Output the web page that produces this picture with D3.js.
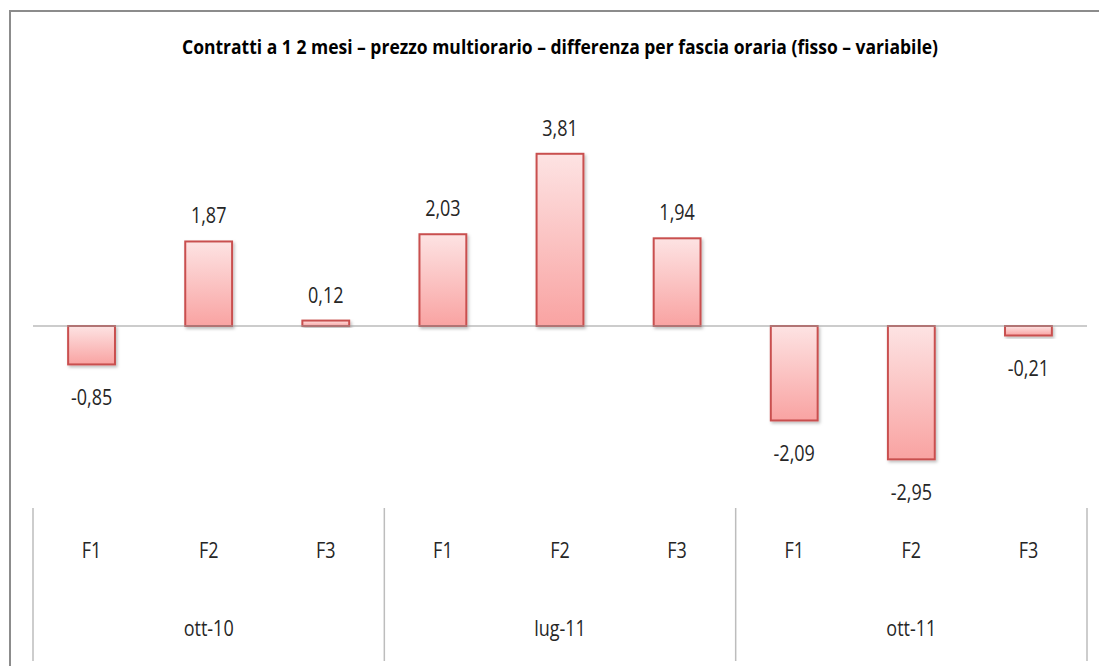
<!DOCTYPE html>
<html>
<head>
<meta charset="utf-8">
<script src="https://cdn.jsdelivr.net/npm/d3@7"></script>
<style>
  body { margin: 0; background: #fff; }
  svg text { font-family: "Open Sans", "Noto Sans", sans-serif; }
</style>
</head>
<body>
<div id="chart"></div>
<script>
const title = "Contratti a 1 2 mesi – prezzo multiorario – differenza per fascia oraria (fisso – variabile)";
const periods = ["ott-10", "lug-11", "ott-11"];
const bands = ["F1", "F2", "F3"];
const values = [-0.85, 1.87, 0.12, 2.03, 3.81, 1.94, -2.09, -2.95, -0.21];

const width = 1099, height = 666;
const plot = { left: 33, right: 1087, zeroY: 326 };
const stretch = 1.25; //text in the picture is drawn tall and narrow

const keys = [];
periods.forEach(p => bands.forEach(b => keys.push(p + "|" + b)));
const rows = keys.map((k, i) => ({ key: k, period: k.split("|")[0], band: k.split("|")[1], value: values[i] }));

const svg = d3.select("#chart").append("svg")
    .attr("width", width)
    .attr("height", height);

//gradient + shadow
const defs = svg.append("defs");
const grad = defs.append("linearGradient")
    .attr("id", "barGrad")
    .attr("x1", 0).attr("y1", 0).attr("x2", 0).attr("y2", 1);
grad.append("stop").attr("offset", "0%").attr("stop-color", "#fde3e3");
grad.append("stop").attr("offset", "100%").attr("stop-color", "#f9a3a2");

const shadow = defs.append("filter").attr("id", "shadow")
    .attr("x", "-20%").attr("y", "-20%").attr("width", "150%").attr("height", "150%");
shadow.append("feDropShadow")
    .attr("dx", 1.5).attr("dy", 2).attr("stdDeviation", 1.5)
    .attr("flood-color", "#000").attr("flood-opacity", 0.25);

//outer frame
svg.append("path")
    .attr("d", `M10,${height} V11 H${width}`)
    .attr("fill", "none")
    .attr("stroke", "#8c8c8c")
    .attr("stroke-width", 2);

svg.append("text")
    .attr("transform", `translate(560,54) scale(1,${stretch})`)
    .attr("text-anchor", "middle")
    .attr("font-weight", "bold")
    .attr("font-size", 15)
    .attr("textLength", 756)
    .attr("lengthAdjust", "spacingAndGlyphs")
    .attr("fill", "#000")
    .text(title);

//scales
const x = d3.scaleBand()
    .domain(keys)
    .range([plot.left, plot.right])
    .paddingInner(0.6)
    .paddingOuter(0.3);

const pxPerUnit = 45.2;
const y = d3.scaleLinear()
    .domain([-1, 1])
    .range([plot.zeroY + pxPerUnit, plot.zeroY - pxPerUnit]);

//bars
svg.append("g")
    .selectAll("rect")
    .data(rows)
    .join("rect")
    .attr("x", d => x(d.key))
    .attr("y", d => Math.min(y(d.value), y(0)))
    .attr("width", x.bandwidth())
    .attr("height", d => Math.abs(y(d.value) - y(0)))
    .attr("fill", "url(#barGrad)")
    .attr("stroke", "#c9504f")
    .attr("stroke-width", 2)
    .attr("filter", "url(#shadow)");

//zero line
svg.append("line")
    .attr("x1", plot.left)
    .attr("x2", plot.right)
    .attr("y1", y(0))
    .attr("y2", y(0))
    .attr("stroke", "#9a9a9a")
    .attr("stroke-width", 1.2);

//value labels
const fmt = v => v.toFixed(2).replace(".", ",");
const cx = d => x(d.key) + x.bandwidth() / 2;
svg.append("g")
    .selectAll("text")
    .data(rows)
    .join("text")
    .attr("transform", d => `translate(${cx(d)},${d.value >= 0 ? y(d.value) - 18 : y(d.value) + 41}) scale(1,${stretch})`)
    .attr("text-anchor", "middle")
    .attr("font-size", 18)
    .attr("fill", "#262626")
    .text(d => fmt(d.value));

//category axis (two levels)
const step = x.step();
const groupW = step * bands.length;
const axis = svg.append("g");

axis.selectAll("text.band")
    .data(rows)
    .join("text")
    .attr("class", "band")
    .attr("transform", d => `translate(${cx(d)},558) scale(1,${stretch})`)
    .attr("text-anchor", "middle")
    .attr("font-size", 18)
    .attr("fill", "#262626")
    .text(d => d.band);

axis.selectAll("text.period")
    .data(periods)
    .join("text")
    .attr("class", "period")
    .attr("transform", (d, i) => `translate(${plot.left + groupW * i + groupW / 2},636) scale(1,${stretch})`)
    .attr("text-anchor", "middle")
    .attr("font-size", 18)
    .attr("fill", "#262626")
    .text(d => d);

axis.selectAll("line.sep")
    .data(d3.range(periods.length + 1))
    .join("line")
    .attr("class", "sep")
    .attr("x1", i => plot.left + groupW * i)
    .attr("x2", i => plot.left + groupW * i)
    .attr("y1", 508)
    .attr("y2", 661)
    .attr("stroke", "#bdbdbd")
    .attr("stroke-width", 1.5);
</script>
</body>
</html>
